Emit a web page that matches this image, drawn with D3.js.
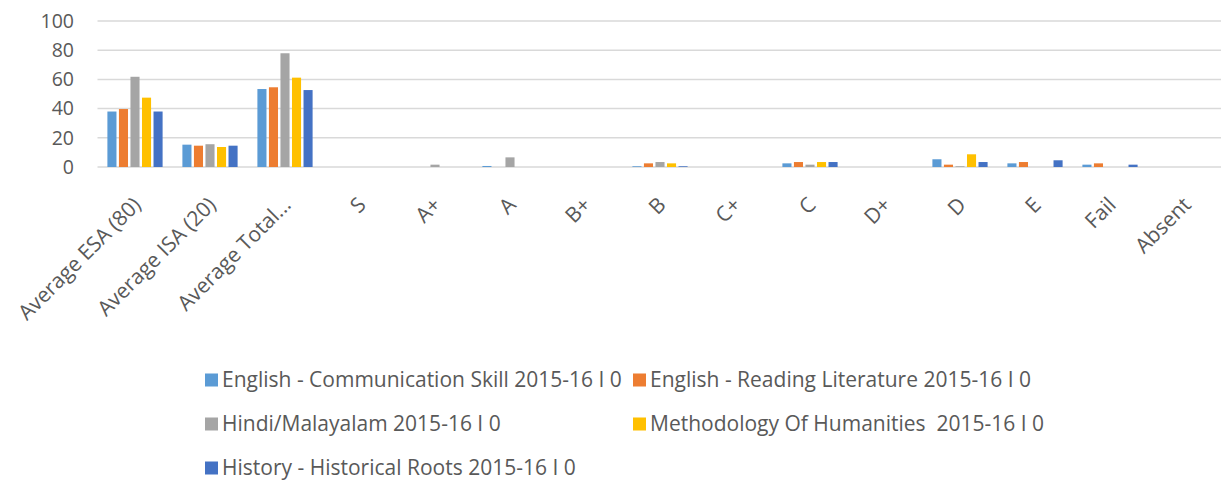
<!DOCTYPE html>
<html>
<head>
<meta charset="utf-8">
<script src="https://cdn.jsdelivr.net/npm/d3@7"></script>
<style>
  body { margin: 0; background: #fff; }
  svg { display: block; }
</style>
</head>
<body>
<svg id="chart"></svg>
<script>
const w = 1221;
const h = 484;

const categories = ["Average ESA (80)", "Average ISA (20)", "Average Total...", "S", "A+", "A", "B+", "B", "C+", "C", "D+", "D", "E", "Fail", "Absent"];
const seriesNames = ["English - Communication Skill 2015-16 I 0", "English - Reading Literature 2015-16 I 0", "Hindi/Malayalam 2015-16 I 0", "Methodology Of Humanities\u00a0 2015-16 I 0", "History - Historical Roots 2015-16 I 0"];
const colors = ["#5B9BD5", "#ED7D31", "#A5A5A5", "#FFC000", "#4472C4"];

const englishComm = [38, 15.3, 53.4, 0, 0, 0.7, 0, 0.5, 0, 2.5, 0, 5.3, 2.5, 1.6, 0];
const englishRead = [39.7, 14.6, 54.6, 0, 0, 0, 0, 2.5, 0, 3.4, 0, 1.6, 3.4, 2.5, 0];
const hindi = [61.8, 15.6, 77.9, 0, 1.6, 6.6, 0, 3.4, 0, 1.6, 0, 0.5, 0, 0, 0];
const methodology = [47.5, 13.7, 61.2, 0, 0, 0, 0, 2.5, 0, 3.4, 0, 8.7, 0, 0, 0];
const history = [38, 14.6, 52.7, 0, 0, 0, 0, 0.5, 0, 3.4, 0, 3.4, 4.6, 1.6, 0];
const yTicks = [0, 20, 40, 60, 80, 100];

const seriesValues = [englishComm, englishRead, hindi, methodology, history];

let svg = d3.select("#chart")
            .attr("width", w)
            .attr("height", h)

let x0 = d3.scaleBand()
           .domain(categories)
           .range([97.5, 1222.5])
           .paddingInner(0.264)
           .paddingOuter(0.132)

let x1 = d3.scaleBand()
           .domain(d3.range(seriesNames.length))
           .range([0, x0.bandwidth()])
           .paddingInner(0.2126)

let y = d3.scaleLinear()
          .domain([0, 100])
          .range([167, 21])

// gridlines
svg.append("g")
   .selectAll("line")
   .data(yTicks)
   .enter()
   .append("line")
   .attr("x1", 97.5)
   .attr("x2", w)
   .attr("y1", d => y(d))
   .attr("y2", d => y(d))
   .attr("stroke", "#d9d9d9")
   .attr("stroke-width", 1.5)

// y axis labels
let yAxis = d3.axisLeft(y).tickValues(yTicks).tickSize(0).tickPadding(0)
let yg = svg.append("g")
   .attr("transform", "translate(74, 0)")
   .call(yAxis)
yg.select(".domain").remove()
yg.selectAll("text")
  .attr("font-family", "'Open Sans', sans-serif")
  .attr("font-size", 19.5)
  .attr("fill", "#595959")

// bars
svg.append("g")
   .selectAll("g")
   .data(categories)
   .enter()
   .append("g")
   .attr("transform", d => `translate(${x0(d)}, 0)`)
   .selectAll("rect")
   .data((d, i) => seriesValues.map((vals, s) => ({ s: s, v: vals[i] })))
   .enter()
   .append("rect")
   .attr("x", d => x1(d.s))
   .attr("width", x1.bandwidth())
   .attr("y", d => y(d.v))
   .attr("height", d => y(0) - y(d.v))
   .attr("fill", d => colors[d.s])

// x labels, rotated
svg.append("g")
   .selectAll("text")
   .data(categories)
   .enter()
   .append("text")
   .attr("transform", d => `translate(${x0(d) + x0.bandwidth() / 2 + 2}, 201) rotate(-45)`)
   .attr("text-anchor", "end")
   .attr("dy", "0.35em")
   .attr("font-family", "'Open Sans', sans-serif")
   .attr("font-size", 21)
   .attr("fill", "#595959")
   .text(d => d)

// legend
let legendPos = [[205, 380], [633, 380], [205, 424], [633, 424], [205, 468]];
let legend = svg.append("g")
   .selectAll("g")
   .data(seriesNames)
   .enter()
   .append("g")
   .attr("transform", (d, i) => `translate(${legendPos[i][0]}, ${legendPos[i][1]})`)
legend.append("rect")
      .attr("x", 0)
      .attr("y", -6.5)
      .attr("width", 13)
      .attr("height", 13)
      .attr("fill", (d, i) => colors[i])
legend.append("text")
      .attr("x", 17)
      .attr("dy", "0.35em")
      .attr("font-family", "'Open Sans', sans-serif")
      .attr("font-size", 21)
      .attr("fill", "#595959")
      .text(d => d)
</script>
</body>
</html>
